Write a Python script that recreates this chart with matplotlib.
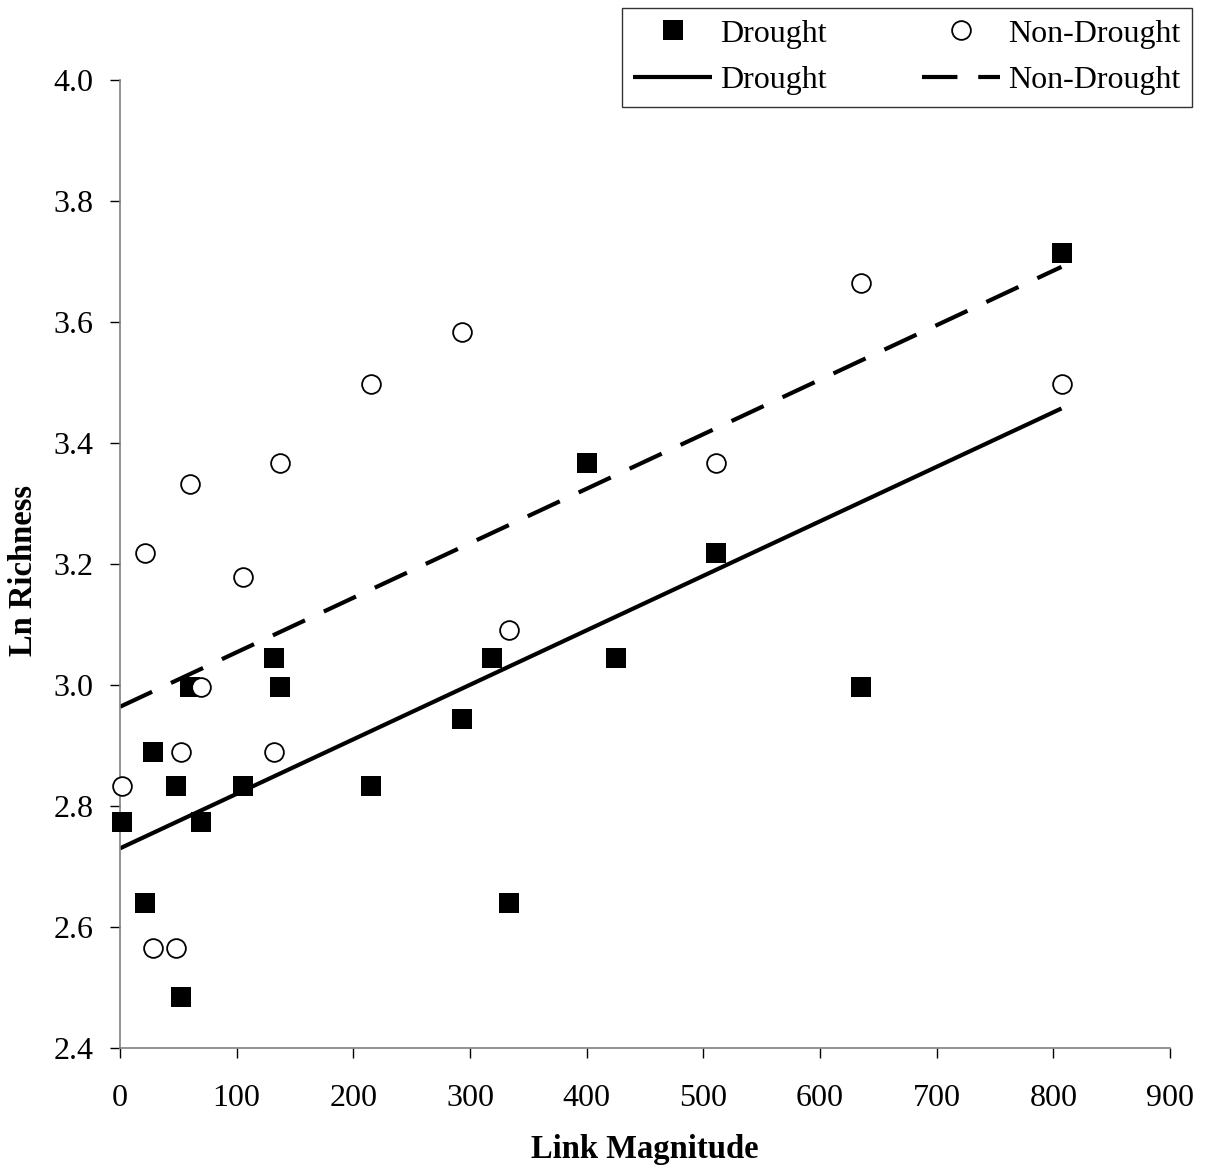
import matplotlib
matplotlib.use("Agg")
import matplotlib.pyplot as plt
from matplotlib.lines import Line2D
import numpy as np

# ---- data ----
drought_x = [2, 21, 28, 48, 52, 60, 69, 105, 132, 137, 215, 293, 319, 333, 400, 425, 511, 635, 807]
drought_y = [2.773, 2.639, 2.890, 2.833, 2.485, 2.996, 2.773, 2.833, 3.045, 2.996,
             2.833, 2.944, 3.045, 2.639, 3.367, 3.045, 3.219, 2.996, 3.714]

nondrought_x = [2, 21, 28, 48, 52, 60, 69, 105, 132, 137, 215, 293, 333, 511, 635, 807]
nondrought_y = [2.833, 3.219, 2.565, 2.565, 2.890, 3.332, 2.996, 3.178, 2.890, 3.367,
                3.497, 3.584, 3.091, 3.367, 3.664, 3.497]

# fitted trend lines (common slope)
drought_intercept = 2.730
nondrought_intercept = 2.964
common_slope = 0.000901
trend_x = [0, 807]

x_ticks = [0, 100, 200, 300, 400, 500, 600, 700, 800, 900]
y_ticks = [2.4, 2.6, 2.8, 3.0, 3.2, 3.4, 3.6, 3.8, 4.0]

plt.rcParams['font.family'] = ['Liberation Serif', 'DejaVu Serif']

W, H = 1206, 1166
fig = plt.figure(figsize=(W / 100, H / 100), dpi=100)
ax = fig.add_axes([120 / W, 1 - 1048 / H, 1050 / W, 968 / H])

DASH = (8.5, 5.0)

tx = np.array(trend_x, dtype=float)
ax.plot(tx, drought_intercept + common_slope * tx, color='black', lw=3,
        solid_capstyle='butt', zorder=2)
ax.plot(tx, nondrought_intercept + common_slope * tx, color='black', lw=3,
        dashes=DASH, dash_capstyle='butt', zorder=2)

ax.plot(drought_x, drought_y, linestyle='none', marker='s', ms=15,
        mfc='black', mec='black', mew=0, zorder=3, clip_on=False)
ax.plot(nondrought_x, nondrought_y, linestyle='none', marker='o', ms=13.5,
        mfc='white', mec='black', mew=1.3, zorder=3, clip_on=False)

ax.set_xlim(0, 900)
ax.set_ylim(2.4, 4.0)
ax.set_xticks(x_ticks)
ax.set_xticklabels([str(v) for v in x_ticks])
ax.set_yticks(y_ticks)
ax.set_yticklabels([f"{v:.1f}" for v in y_ticks])

for s in ['top', 'right']:
    ax.spines[s].set_visible(False)
for s in ['left', 'bottom']:
    ax.spines[s].set_color('#808080')
    ax.spines[s].set_linewidth(1.2)
ax.tick_params(axis='both', direction='out', length=7.2, width=1.0,
               color='black', labelsize=23)
ax.tick_params(axis='x', pad=19)
ax.tick_params(axis='y', pad=12)

ax.set_xlabel('Link Magnitude', fontsize=23.5, fontweight='bold', labelpad=14.5)
ax.set_ylabel('Ln Richness', fontsize=23.5, fontweight='bold')
ax.yaxis.set_label_coords((39 - 120) / 1050, (1048 - 570) / 968)

h_sq = Line2D([], [], linestyle='none', marker='s', ms=15, mfc='black', mec='black', mew=0)
h_ci = Line2D([], [], linestyle='none', marker='o', ms=13.5, mfc='white', mec='black', mew=1.3)
h_sol = Line2D([], [], color='black', lw=3, solid_capstyle='butt')
h_das = Line2D([], [], color='black', lw=3, dashes=DASH, dash_capstyle='butt')

leg = fig.legend([h_sq, h_sol, h_ci, h_das],
                 ['Drought', 'Drought', 'Non-Drought', 'Non-Drought'],
                 ncol=2, loc='upper right',
                 bbox_to_anchor=(1192 / W, 1 - 8 / H),
                 fontsize=23, frameon=True, fancybox=False, edgecolor='black',
                 handlelength=2.45, handletextpad=0.25, columnspacing=3.0,
                 borderpad=0.35, labelspacing=0.55, numpoints=1, borderaxespad=0)
leg.get_frame().set_linewidth(1.0)

fig.savefig('out.png', dpi=100)
